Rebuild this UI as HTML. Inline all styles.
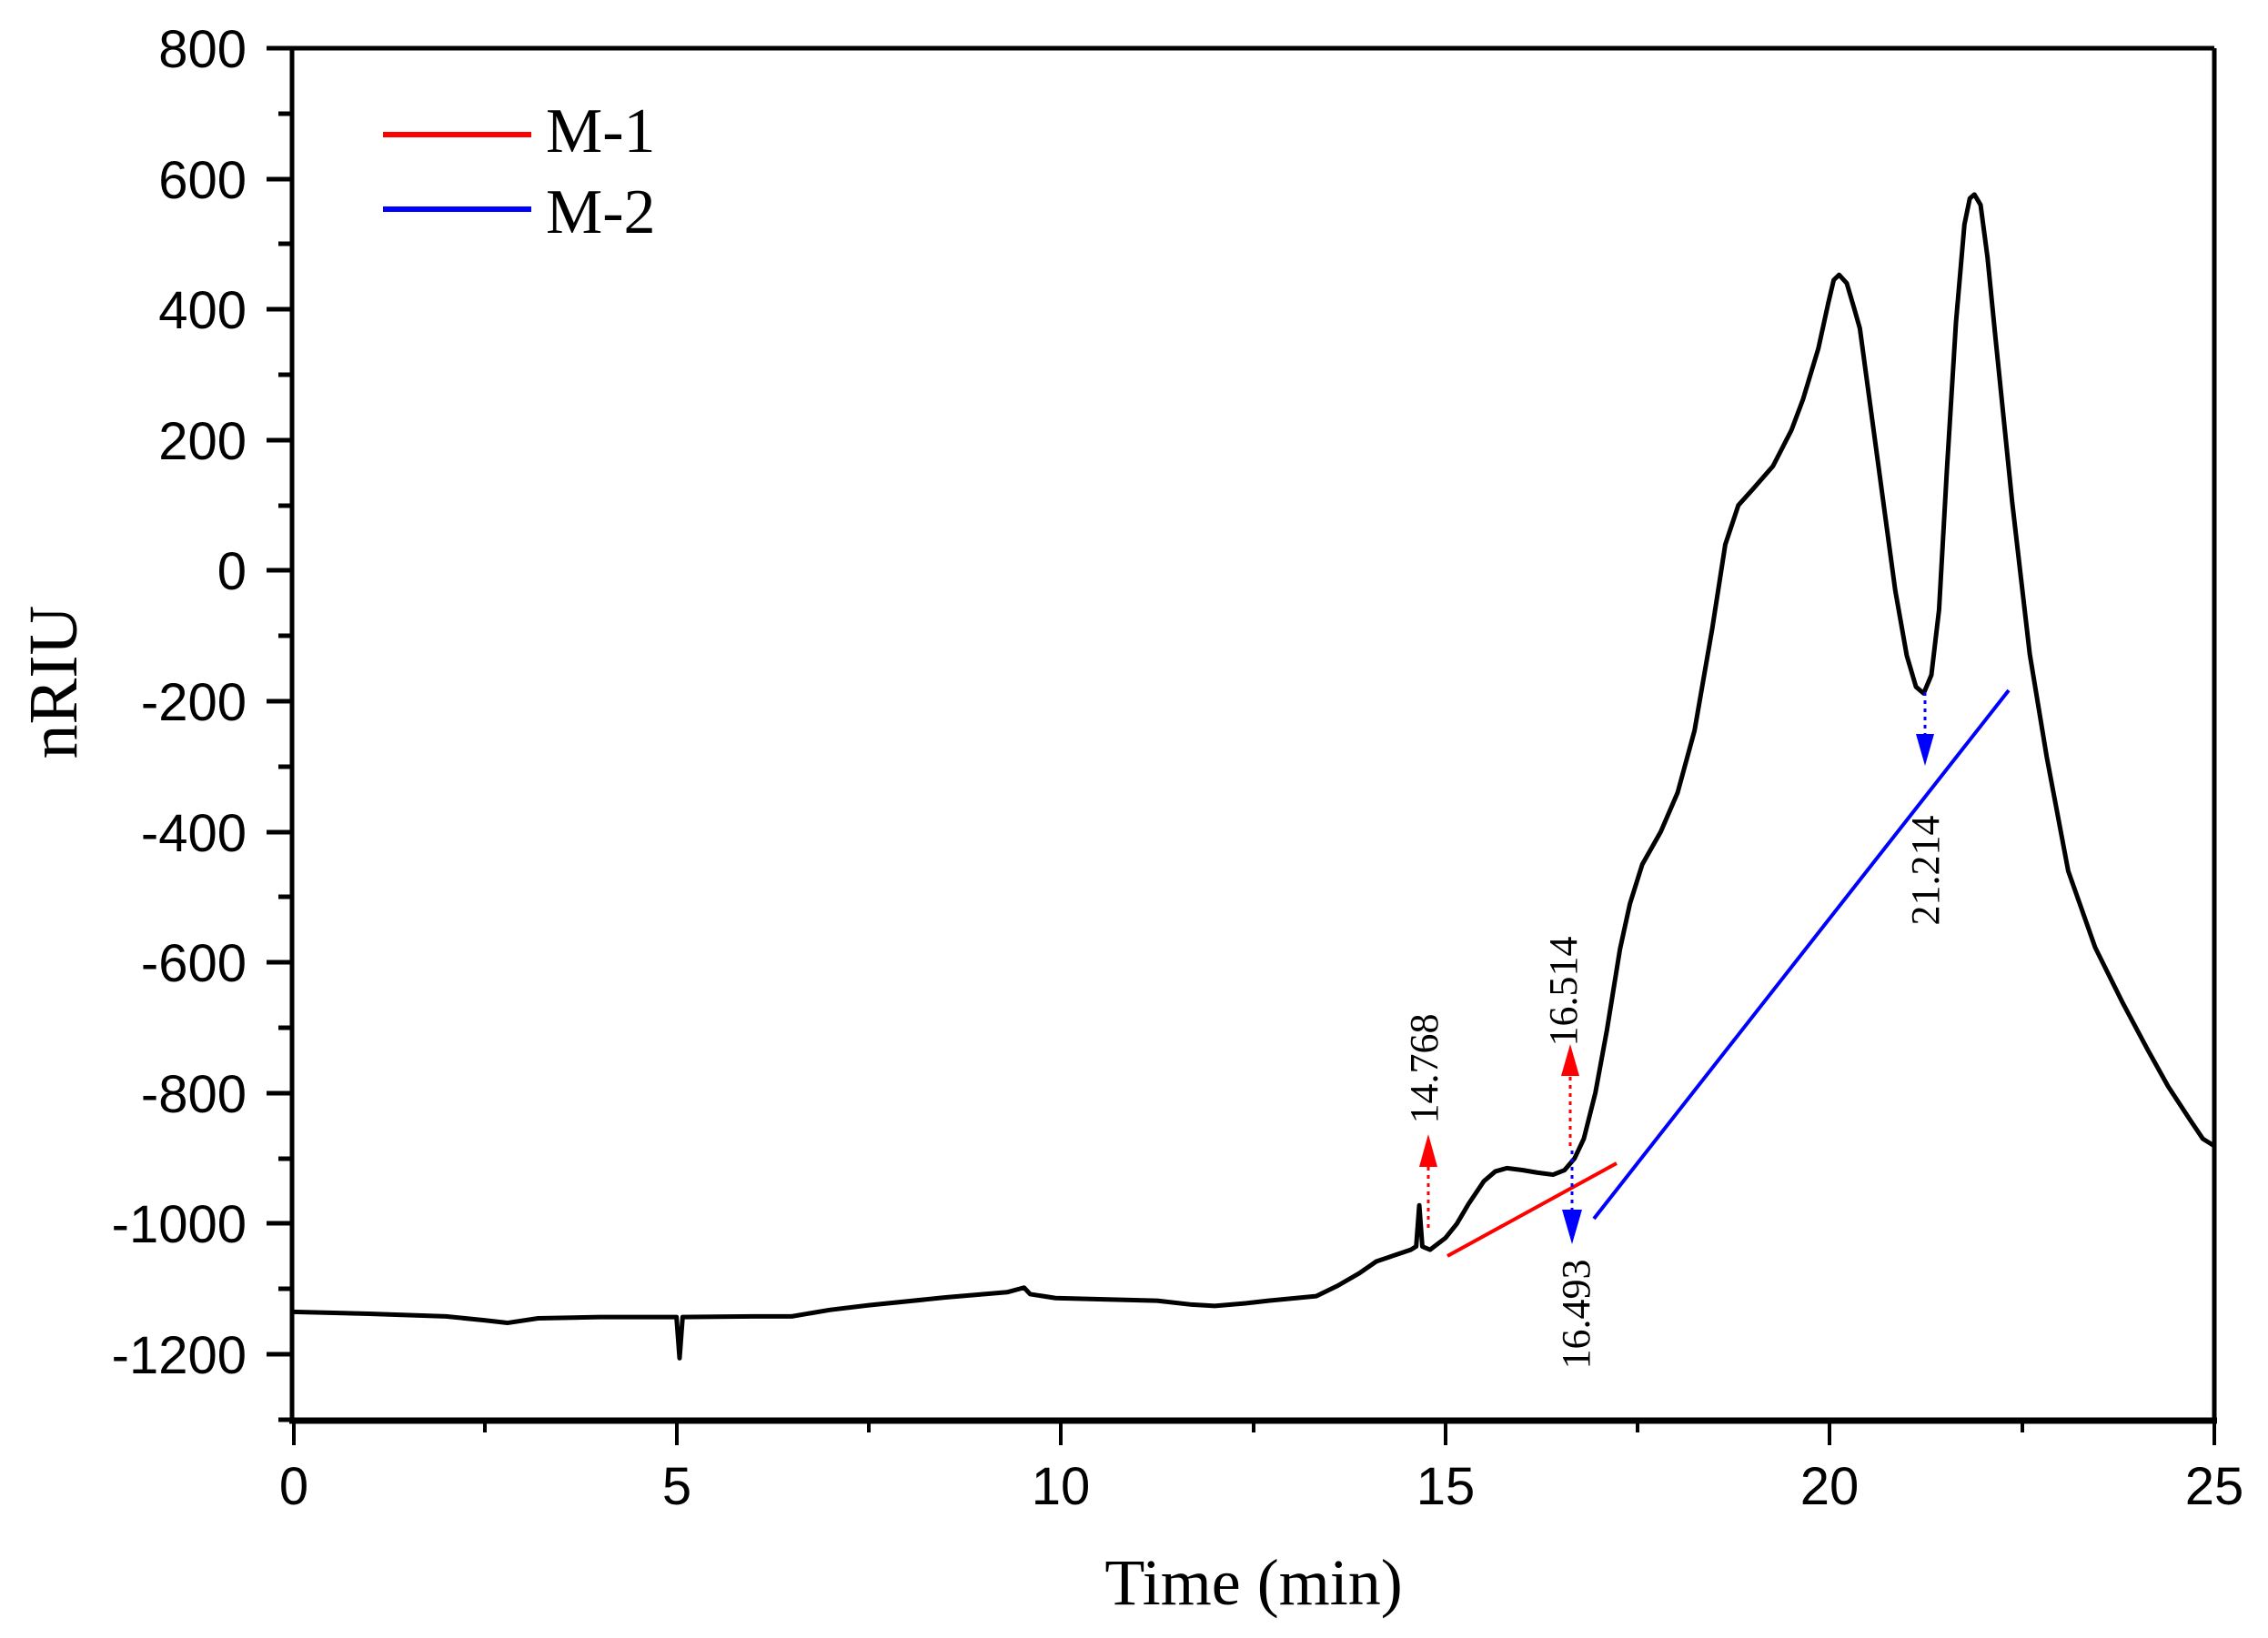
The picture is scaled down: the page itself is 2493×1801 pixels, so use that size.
<!DOCTYPE html>
<html><head><meta charset="utf-8"><style>html,body{margin:0;padding:0;background:#fff}svg{display:block}</style></head>
<body>
<svg width="2493" height="1801" viewBox="0 0 2493 1801" xmlns="http://www.w3.org/2000/svg">
<rect width="2493" height="1801" fill="#fff"/>
<g stroke="#000" stroke-width="5" fill="none">
<line x1="321" y1="53" x2="2434" y2="53"/>
<line x1="321" y1="53" x2="321" y2="1562"/>
<line x1="2434" y1="53" x2="2434" y2="1562"/>
<line x1="318" y1="1562" x2="2437" y2="1562" stroke-width="7"/>
</g>
<g stroke="#000" stroke-width="5">
<line x1="293" y1="53" x2="321" y2="53"/><line x1="306" y1="125" x2="321" y2="125"/>
<line x1="293" y1="197" x2="321" y2="197"/><line x1="306" y1="268" x2="321" y2="268"/>
<line x1="293" y1="340" x2="321" y2="340"/><line x1="306" y1="412" x2="321" y2="412"/>
<line x1="293" y1="484" x2="321" y2="484"/><line x1="306" y1="556" x2="321" y2="556"/>
<line x1="293" y1="627" x2="321" y2="627"/><line x1="306" y1="699" x2="321" y2="699"/>
<line x1="293" y1="771" x2="321" y2="771"/><line x1="306" y1="843" x2="321" y2="843"/>
<line x1="293" y1="915" x2="321" y2="915"/><line x1="306" y1="986" x2="321" y2="986"/>
<line x1="293" y1="1058" x2="321" y2="1058"/><line x1="306" y1="1130" x2="321" y2="1130"/>
<line x1="293" y1="1202" x2="321" y2="1202"/><line x1="306" y1="1274" x2="321" y2="1274"/>
<line x1="293" y1="1345" x2="321" y2="1345"/><line x1="306" y1="1417" x2="321" y2="1417"/>
<line x1="293" y1="1489" x2="321" y2="1489"/><line x1="306" y1="1561" x2="321" y2="1561"/>
</g>
<g stroke="#000" stroke-width="4">
<line x1="323" y1="1562" x2="323" y2="1589"/><line x1="533" y1="1562" x2="533" y2="1575"/>
<line x1="744" y1="1562" x2="744" y2="1589"/><line x1="955" y1="1562" x2="955" y2="1575"/>
<line x1="1166" y1="1562" x2="1166" y2="1589"/><line x1="1378" y1="1562" x2="1378" y2="1575"/>
<line x1="1589" y1="1562" x2="1589" y2="1589"/><line x1="1800" y1="1562" x2="1800" y2="1575"/>
<line x1="2011" y1="1562" x2="2011" y2="1589"/><line x1="2223" y1="1562" x2="2223" y2="1575"/>
<line x1="2434" y1="1562" x2="2434" y2="1589"/>
</g>
<g font-family="Liberation Sans, Arial, sans-serif" font-size="58" fill="#000" text-anchor="end">
<text x="271" y="74">800</text><text x="271" y="218">600</text><text x="271" y="361">400</text>
<text x="271" y="505">200</text><text x="271" y="648">0</text><text x="271" y="792">-200</text>
<text x="271" y="936">-400</text><text x="271" y="1079">-600</text><text x="271" y="1223">-800</text>
<text x="271" y="1366">-1000</text><text x="271" y="1510">-1200</text>
</g>
<g font-family="Liberation Sans, Arial, sans-serif" font-size="58" fill="#000" text-anchor="middle">
<text x="323" y="1654">0</text><text x="744" y="1654">5</text><text x="1166" y="1654">10</text>
<text x="1589" y="1654">15</text><text x="2011" y="1654">20</text><text x="2434" y="1654">25</text>
</g>
<text x="1378" y="1764" font-family="Liberation Serif, Times New Roman, serif" font-size="72" text-anchor="middle">Time (min)</text>
<text transform="translate(84,750) rotate(-90)" font-family="Liberation Serif, Times New Roman, serif" font-size="76" text-anchor="middle">nRIU</text>
<line x1="421" y1="148" x2="584" y2="148" stroke="#f00" stroke-width="6"/>
<line x1="421" y1="230" x2="584" y2="230" stroke="#00f" stroke-width="6"/>
<g font-family="Liberation Serif, Times New Roman, serif" font-size="70" fill="#000">
<text x="600" y="167">M-1</text><text x="600" y="256">M-2</text>
</g>
<g transform="translate(321,627.4) scale(84.52,-0.718)">
<polyline fill="none" stroke="#000" stroke-width="5" vector-effect="non-scaling-stroke" stroke-linejoin="round" points="0,-1135 1,-1138 2,-1142 2.5,-1148 2.8,-1152 3.2,-1145 4,-1143 5.0,-1143 5.04,-1206 5.08,-1143 6,-1142 6.5,-1142 7,-1132 7.5,-1125 8.5,-1113 9.3,-1105 9.52,-1098 9.6,-1108 9.93,-1114 11.25,-1118 11.7,-1124 12.0,-1126 12.4,-1122 12.7,-1118 13.32,-1111 13.6,-1095 13.88,-1076 14.1,-1058 14.3,-1050 14.55,-1040 14.62,-1035 14.66,-972 14.7,-1035 14.8,-1040 15.0,-1022 15.15,-1000 15.3,-970 15.5,-935 15.65,-920 15.8,-915 16.0,-918 16.2,-922 16.4,-925 16.55,-918 16.68,-900 16.8,-870 16.95,-800 17.1,-704 17.27,-580 17.4,-510 17.56,-450 17.8,-400 18.02,-340 18.24,-245 18.47,-89 18.64,40 18.81,100 19.0,125 19.26,160 19.5,215 19.65,262 19.85,340 19.98,410 20.05,445 20.12,453 20.22,440 20.32,400 20.39,371 20.56,223 20.85,-30 21.0,-130 21.12,-178 21.22,-188 21.32,-160 21.42,-60 21.52,150 21.64,380 21.75,530 21.82,570 21.88,576 21.96,560 22.05,480 22.15,361 22.37,106 22.6,-128 22.82,-285 23.1,-460 23.45,-577 23.8,-660 24.13,-733 24.4,-790 24.69,-842 24.85,-870 25,-881"/>
</g>
<line x1="1591" y1="1381" x2="1777" y2="1279" stroke="#f00" stroke-width="4"/>
<line x1="1752" y1="1340" x2="2208" y2="759" stroke="#00f" stroke-width="4"/>
<line x1="1570" y1="1350" x2="1570" y2="1283" stroke="#f00" stroke-width="3" stroke-dasharray="4,5"/>
<polygon points="1560,1283 1580,1283 1570,1247" fill="#f00"/>
<line x1="1726" y1="1260" x2="1726" y2="1183" stroke="#f00" stroke-width="3" stroke-dasharray="4,5"/>
<polygon points="1716,1183 1736,1183 1726,1148" fill="#f00"/>
<line x1="1728" y1="1265" x2="1728" y2="1330" stroke="#00f" stroke-width="3" stroke-dasharray="4,5"/>
<polygon points="1717,1330 1739,1330 1728,1368" fill="#00f"/>
<line x1="2116" y1="761" x2="2116" y2="807" stroke="#00f" stroke-width="3" stroke-dasharray="4,5"/>
<polygon points="2106,807 2126,807 2116,842" fill="#00f"/>
<g font-family="Liberation Serif, Times New Roman, serif" font-size="44" fill="#000" text-anchor="middle">
<text transform="translate(1580,1175) rotate(-90)">14.768</text>
<text transform="translate(1733,1090) rotate(-90)">16.514</text>
<text transform="translate(1747,1445) rotate(-90)">16.493</text>
<text transform="translate(2131,957) rotate(-90)">21.214</text>
</g>
</svg>
</body></html>
